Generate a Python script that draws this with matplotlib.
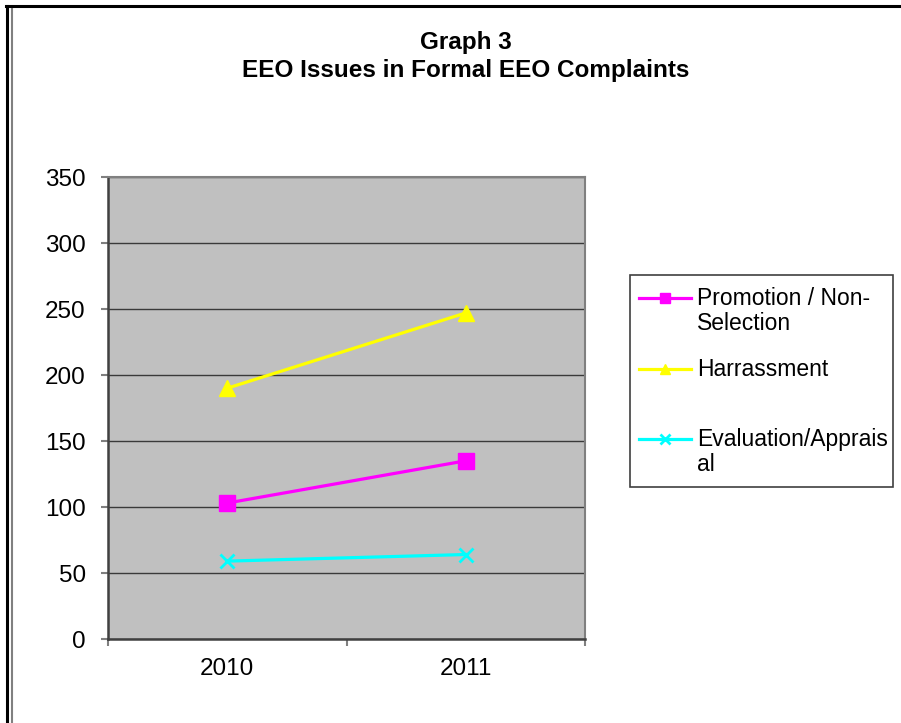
import matplotlib
matplotlib.use("Agg")
import matplotlib.pyplot as plt
from matplotlib.lines import Line2D
from matplotlib.patches import Rectangle

plt.rcParams['font.family'] = ['Liberation Sans', 'DejaVu Sans']

years = ["2010", "2011"]
series_names = ["Promotion / Non-\nSelection", "Harrassment", "Evaluation/Apprais\nal"]
promotion = [103, 135]
harassment = [190, 247]
evaluation = [59, 64]
values = [promotion, harassment, evaluation]
colors = ["#FF00FF", "#FFFF00", "#00FFFF"]
markers = ["s", "^", "x"]
marker_sizes = [11, 11, 10]
legend_marker_sizes = [7, 7, 7]

W, H = 901, 723
fig = plt.figure(figsize=(W / 100, H / 100), dpi=100)

def fx(px):
    return px / W

def fy(py):
    return 1 - py / H

# frame around the page
fig.add_artist(Line2D([fx(7), fx(7)], [fy(6), 0], color="black", lw=2.2))
fig.add_artist(Line2D([fx(12), fx(12)], [fy(7), 0], color="#808080", lw=1.5))
fig.add_artist(Line2D([fx(6), 1], [fy(6), fy(6)], color="black", lw=2.2))

ax = fig.add_axes([fx(108), fy(639), fx(585) - fx(108), fy(177) - fy(639)])
ax.set_facecolor("#C0C0C0")

x = [i + 0.5 for i in range(len(years))]
for vals, c, m, ms in zip(values, colors, markers, marker_sizes):
    ax.plot(x, vals, color=c, marker=m, markersize=ms, lw=2.3,
            markeredgewidth=2 if m == "x" else 1, clip_on=False)

ax.set_xlim(0, len(years))
ax.set_ylim(0, 350)
ax.set_yticks(range(0, 351, 50))
ax.set_yticklabels([str(v) for v in range(0, 351, 50)])
ax.yaxis.grid(True, color="#3a3a3a", lw=1.0)
ax.set_axisbelow(True)

ax.set_xticks(range(len(years) + 1))
ax.set_xticklabels([])
ax.set_xticks(x, minor=True)
ax.set_xticklabels(years, minor=True)
ax.tick_params(axis="x", which="minor", length=0, pad=14, labelsize=17.5)
ax.tick_params(axis="x", which="major", length=5, color="#808080", width=1.5)
ax.tick_params(axis="y", length=5, color="#808080", width=1.5, pad=11, labelsize=17.5)

for s in ["left", "bottom"]:
    ax.spines[s].set_color("#404040")
    ax.spines[s].set_linewidth(1.8)
for s in ["top", "right"]:
    ax.spines[s].set_color("#808080")
    ax.spines[s].set_linewidth(1.5)

# title
fig.text(fx(466), fy(31), "Graph 3\nEEO Issues in Formal EEO Complaints",
         ha="center", va="top", fontsize=17.5, fontweight="bold", linespacing=1.3)

# legend drawn by hand to match the wrapped entries
fig.add_artist(Rectangle((fx(630), fy(487)), fx(893) - fx(630), fy(275) - fy(487),
                         fill=False, edgecolor="#404040", lw=1.2))
handle_y = [298, 369, 439]
for name, c, m, ms, hy in zip(series_names, colors, markers, legend_marker_sizes, handle_y):
    fig.add_artist(Line2D([fx(639), fx(691)], [fy(hy), fy(hy)], color=c, lw=2.3))
    fig.add_artist(Line2D([fx(665)], [fy(hy)], color=c, marker=m, markersize=ms,
                          markeredgewidth=2 if m == "x" else 1))
    # va="baseline" sits on the last line, so push down by the extra lines
    n_lines = name.count("\n") + 1
    fig.text(fx(697), fy(hy + 7 + 25 * (n_lines - 1)), name, ha="left",
             va="baseline", fontsize=16.5, linespacing=1.1)

fig.savefig("out.png", dpi=100)
